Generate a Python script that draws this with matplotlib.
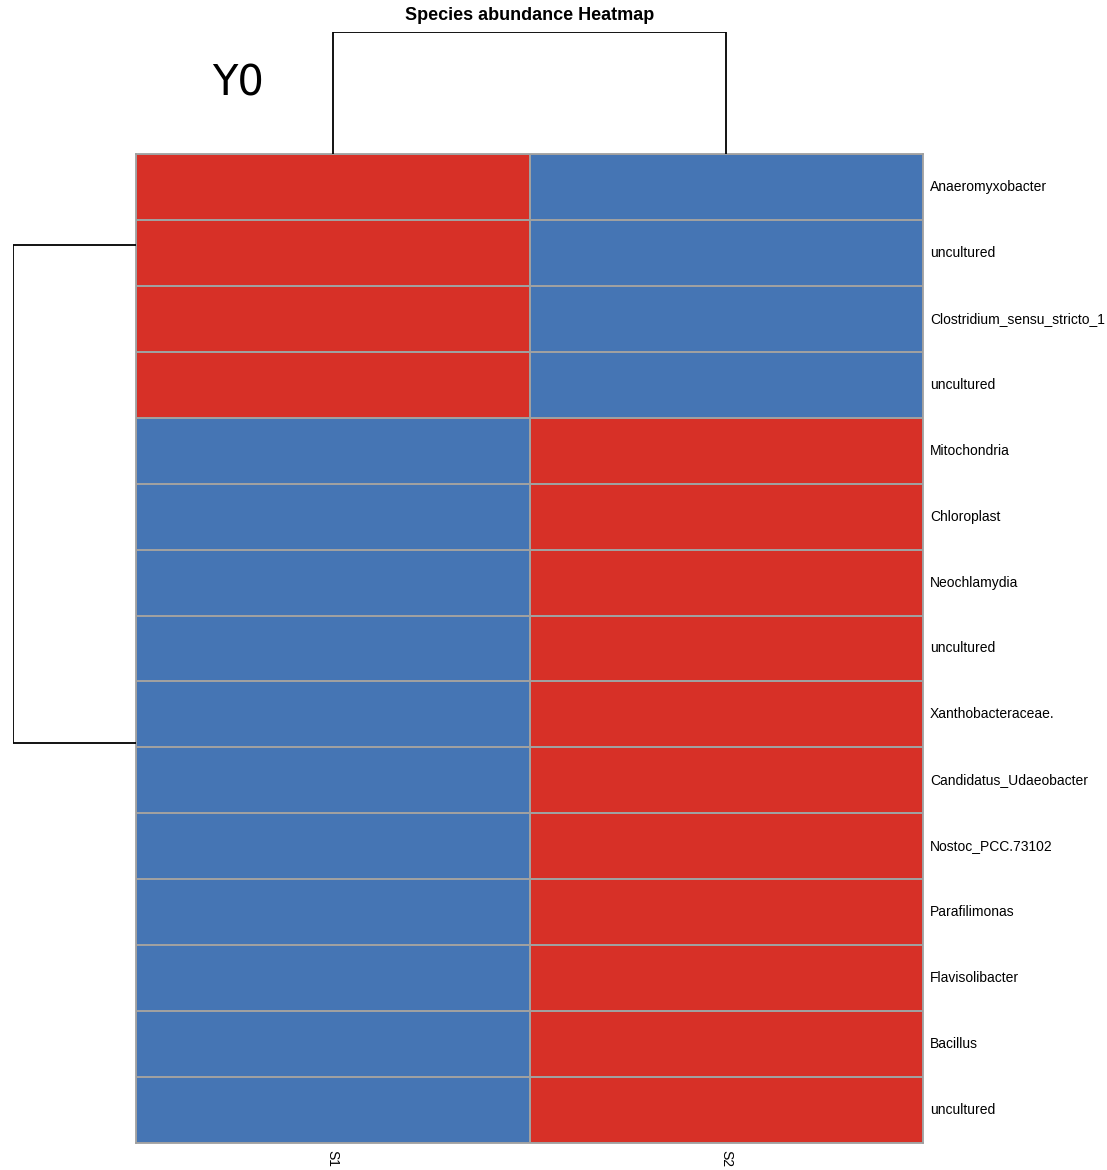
import numpy as np
import matplotlib.pyplot as plt
from matplotlib.colors import LinearSegmentedColormap

# taxa (rows, in clustered order) and samples (columns)
taxa = ["Anaeromyxobacter", "uncultured", "Clostridium_sensu_stricto_1", "uncultured",
        "Mitochondria", "Chloroplast", "Neochlamydia", "uncultured",
        "Xanthobacteraceae.", "Candidatus_Udaeobacter", "Nostoc_PCC.73102",
        "Parafilimonas", "Flavisolibacter", "Bacillus", "uncultured"]
samples = ["S1", "S2"]

# row-scaled abundance (z-scores) for S1 and S2
s1 = [0.707, 0.707, 0.707, 0.707, -0.707, -0.707, -0.707, -0.707,
      -0.707, -0.707, -0.707, -0.707, -0.707, -0.707, -0.707]
s2 = [-0.707, -0.707, -0.707, -0.707, 0.707, 0.707, 0.707, 0.707,
      0.707, 0.707, 0.707, 0.707, 0.707, 0.707, 0.707]

# dendrogram nodes: leaf-position of each cluster and merge height
row_cluster_pos = [1.38, 8.93]
row_merge_height = 1.0
col_cluster_pos = [0.5, 1.5]
col_merge_height = 1.0

data = np.column_stack([s1, s2])
cmap = LinearSegmentedColormap.from_list("rdbu", ["#4575B4", "#FFFFBF", "#D73027"])

W, H = 1107, 1170
fig = plt.figure(figsize=(W / 100, H / 100), dpi=100)

def box(x0, y0, x1, y1):
    return [x0 / W, 1 - y1 / H, (x1 - x0) / W, (y1 - y0) / H]

hx0, hy0, hx1, hy1 = 136, 154, 923, 1143
ax = fig.add_axes(box(hx0, hy0, hx1, hy1))
ax.pcolormesh(data, cmap=cmap, vmin=-0.707, vmax=0.707,
              edgecolor="#A0A0A0", linewidth=1.3)
ax.set_xlim(0, len(samples))
ax.set_ylim(len(taxa), 0)
for side in ax.spines.values():
    side.set_color("#A0A0A0")
    side.set_linewidth(1.3)
ax.set_xticks([])
ax.set_yticks([])

# row labels on the right, column labels underneath
for i, name in enumerate(taxa):
    ax.text(len(samples) + 0.018, i + 0.5, name, ha="left", va="center",
            fontsize=10, family="Liberation Sans")
for j, name in enumerate(samples):
    ax.text(j + 0.5, len(taxa) + 0.1, name, ha="center", va="top",
            rotation=-90, fontsize=10, family="Liberation Sans")

# column dendrogram
axt = fig.add_axes(box(hx0, 32, hx1, hy0))
axt.plot([col_cluster_pos[0], col_cluster_pos[0], col_cluster_pos[1], col_cluster_pos[1]],
         [0, col_merge_height, col_merge_height, 0], color="black", lw=1.3)
axt.set_xlim(0, len(samples))
axt.set_ylim(0, col_merge_height)
axt.axis("off")

# row dendrogram
axl = fig.add_axes(box(13, hy0, hx0, hy1))
axl.plot([0, row_merge_height, row_merge_height, 0],
         [row_cluster_pos[0], row_cluster_pos[0], row_cluster_pos[1], row_cluster_pos[1]],
         color="black", lw=1.3)
axl.set_xlim(row_merge_height, 0)
axl.set_ylim(len(taxa), 0)
axl.axis("off")

fig.text((hx0 + hx1) / 2 / W, 1 - 16 / H, "Species abundance Heatmap",
         ha="center", va="center", fontsize=13, fontweight="bold", family="Liberation Sans")
fig.text(238 / W, 1 - 84 / H, "Y0", ha="center", va="center", fontsize=30,
         family="Liberation Sans Narrow")

fig.savefig("out.png", dpi=100)
